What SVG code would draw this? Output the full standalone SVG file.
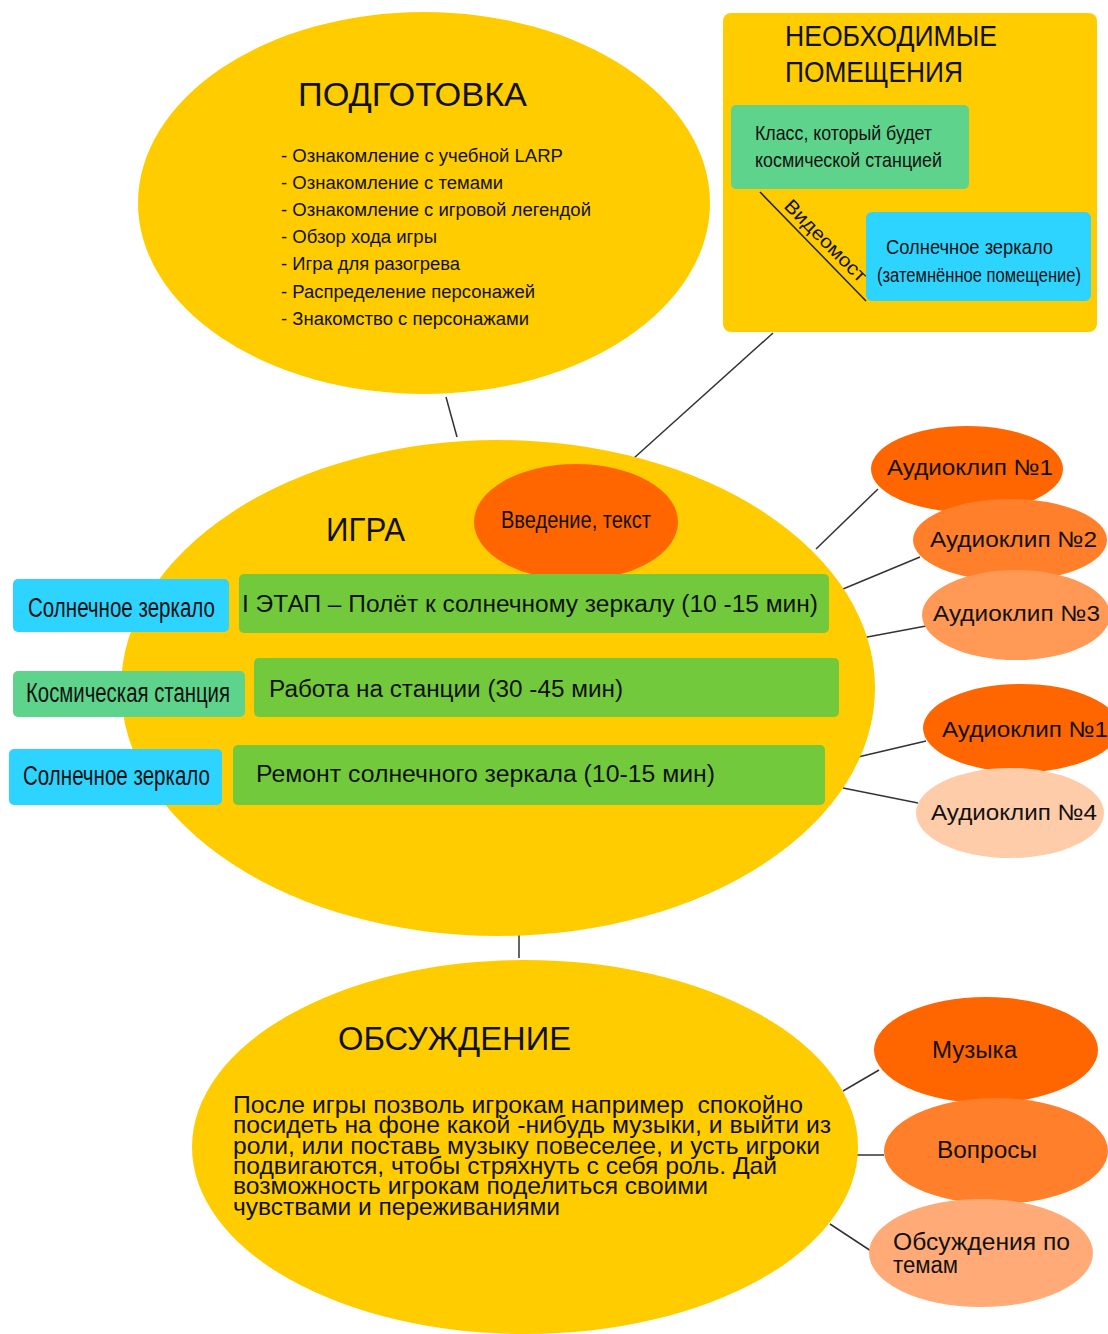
<svg xmlns="http://www.w3.org/2000/svg" width="1108" height="1334" viewBox="0 0 1108 1334">
<style>
.t{font-family:"Liberation Sans","Arial",sans-serif;fill:#111;}
.n{font-family:"Liberation Sans Narrow","Liberation Sans","Arial",sans-serif;fill:#111;}
.yel{fill:#FFCC00;}
.bar{fill:#72C93B;}
.lg{fill:#5ED38B;}
.bl{fill:#2DD4FF;}
.conn line{stroke:#333;stroke-width:1.5;}
</style>
<rect width="1108" height="1334" fill="#fff"/>
<g class="conn" id="connectors">
<line x1="446" y1="397" x2="457" y2="437"/>
<line x1="773" y1="333" x2="634" y2="458"/>
<line x1="816" y1="549" x2="878" y2="489"/>
<line x1="843" y1="589" x2="920" y2="557"/>
<line x1="862" y1="638" x2="926" y2="626"/>
<line x1="858" y1="757" x2="926" y2="741"/>
<line x1="843" y1="788" x2="918" y2="803"/>
<line x1="519" y1="935" x2="519" y2="958"/>
<line x1="843" y1="1091" x2="879" y2="1070"/>
<line x1="857" y1="1155" x2="884" y2="1155"/>
<line x1="830" y1="1224" x2="871" y2="1251"/>
</g>
<g id="podgotovka">
<ellipse class="yel" cx="424" cy="203" rx="286" ry="191"/>
<text class="t" x="298" y="106" font-size="34" textLength="229" lengthAdjust="spacingAndGlyphs">ПОДГОТОВКА</text>
<g class="n" font-size="18">
<text x="281" y="162" textLength="282" lengthAdjust="spacingAndGlyphs">- Ознакомление с учебной LARP</text>
<text x="281" y="189" textLength="222" lengthAdjust="spacingAndGlyphs">- Ознакомление с темами</text>
<text x="281" y="216" textLength="310" lengthAdjust="spacingAndGlyphs">- Ознакомление с игровой легендой</text>
<text x="281" y="243" textLength="156" lengthAdjust="spacingAndGlyphs">- Обзор хода игры</text>
<text x="281" y="270" textLength="179" lengthAdjust="spacingAndGlyphs">- Игра для разогрева</text>
<text x="281" y="298" textLength="254" lengthAdjust="spacingAndGlyphs">- Распределение персонажей</text>
<text x="281" y="325" textLength="248" lengthAdjust="spacingAndGlyphs">- Знакомство с персонажами</text>
</g>
</g>
<g id="pomeshcheniya">
<rect class="yel" x="723" y="13" width="374" height="319" rx="8"/>
<text class="n" x="785" y="46" font-size="29" textLength="212" lengthAdjust="spacingAndGlyphs">НЕОБХОДИМЫЕ</text>
<text class="n" x="785" y="82" font-size="29" textLength="178" lengthAdjust="spacingAndGlyphs">ПОМЕЩЕНИЯ</text>
</g>
<g id="klass">
<rect class="lg" x="731" y="105" width="238" height="84" rx="5"/>
<text class="n" x="755" y="140" font-size="21" textLength="177" lengthAdjust="spacingAndGlyphs">Класс, который будет</text>
<text class="n" x="755" y="167" font-size="21" textLength="187" lengthAdjust="spacingAndGlyphs">космической станцией</text>
</g>
<g id="zerkalo-room">
<rect class="bl" x="866" y="212" width="225" height="89" rx="6"/>
<text class="n" x="886" y="254" font-size="21" textLength="167" lengthAdjust="spacingAndGlyphs">Солнечное зеркало</text>
<text class="n" x="877" y="282" font-size="20" textLength="204" lengthAdjust="spacingAndGlyphs">(затемнённое помещение)</text>
</g>
<g id="videomost">
<line x1="760" y1="192" x2="866" y2="301" stroke="#222" stroke-width="1.5"/>
<text class="n" font-size="19" transform="translate(783,207) rotate(45)" textLength="108" lengthAdjust="spacingAndGlyphs">Видеомост</text>
</g>
<g id="igra">
<ellipse class="yel" cx="498" cy="688" rx="377" ry="248"/>
<text class="t" x="326" y="541" font-size="34" textLength="79" lengthAdjust="spacingAndGlyphs">ИГРА</text>
</g>
<g id="vvedenie">
<ellipse cx="576" cy="522" rx="102" ry="58" fill="#FF6600"/>
<text class="n" x="501" y="528" font-size="23" textLength="150" lengthAdjust="spacingAndGlyphs">Введение, текст</text>
</g>
<g id="etap1">
<rect class="bar" x="239" y="574" width="590" height="59" rx="5"/>
<text class="t" x="242" y="612" font-size="23" textLength="576" lengthAdjust="spacingAndGlyphs">I ЭТАП – Полёт к солнечному зеркалу (10 -15 мин)</text>
</g>
<g id="etap2">
<rect class="bar" x="254" y="658" width="585" height="59" rx="5"/>
<text class="t" x="269" y="697" font-size="23" textLength="354" lengthAdjust="spacingAndGlyphs">Работа на станции (30 -45 мин)</text>
</g>
<g id="etap3">
<rect class="bar" x="233" y="745" width="592" height="60" rx="5"/>
<text class="t" x="256" y="782" font-size="23" textLength="459" lengthAdjust="spacingAndGlyphs">Ремонт солнечного зеркала (10-15 мин)</text>
</g>
<g id="label-zerkalo1">
<rect class="bl" x="13" y="579" width="216" height="53" rx="5"/>
<text class="n" x="28" y="617" font-size="27" textLength="187" lengthAdjust="spacingAndGlyphs">Солнечное зеркало</text>
</g>
<g id="label-stanciya">
<rect class="lg" x="13" y="671" width="232" height="46" rx="5"/>
<text class="n" x="26" y="702" font-size="27" textLength="204" lengthAdjust="spacingAndGlyphs">Космическая станция</text>
</g>
<g id="label-zerkalo2">
<rect class="bl" x="9" y="749" width="213" height="56" rx="5"/>
<text class="n" x="23" y="785" font-size="27" textLength="187" lengthAdjust="spacingAndGlyphs">Солнечное зеркало</text>
</g>
<g id="audio1">
<ellipse cx="967" cy="469" rx="96" ry="43" fill="#FF6600"/>
<text class="t" x="887" y="475" font-size="22" textLength="166" lengthAdjust="spacingAndGlyphs">Аудиоклип №1</text>
</g>
<g id="audio2">
<ellipse cx="1010" cy="540" rx="97" ry="41" fill="#FF7F2A"/>
<text class="t" x="930" y="547" font-size="22" textLength="167" lengthAdjust="spacingAndGlyphs">Аудиоклип №2</text>
</g>
<g id="audio3">
<ellipse cx="1016" cy="615" rx="94" ry="45" fill="#FF9955"/>
<text class="t" x="933" y="621" font-size="22" textLength="167" lengthAdjust="spacingAndGlyphs">Аудиоклип №3</text>
</g>
<g id="audio1b">
<ellipse cx="1021" cy="728" rx="98" ry="44" fill="#FF6600"/>
<text class="t" x="942" y="737" font-size="22" textLength="166" lengthAdjust="spacingAndGlyphs">Аудиоклип №1</text>
</g>
<g id="audio4">
<ellipse cx="1010" cy="813" rx="94" ry="45" fill="#FFCCAA"/>
<text class="t" x="931" y="820" font-size="22" textLength="166" lengthAdjust="spacingAndGlyphs">Аудиоклип №4</text>
</g>
<g id="obsuzhdenie">
<ellipse class="yel" cx="525" cy="1147" rx="333" ry="187"/>
<text class="t" x="338" y="1050" font-size="34" textLength="233" lengthAdjust="spacingAndGlyphs">ОБСУЖДЕНИЕ</text>
<g class="n" font-size="24">
<text x="233" y="1113" textLength="570" lengthAdjust="spacingAndGlyphs" xml:space="preserve">После игры позволь игрокам например  спокойно</text>
<text x="233" y="1133" textLength="598" lengthAdjust="spacingAndGlyphs">посидеть на фоне какой -нибудь музыки, и выйти из</text>
<text x="233" y="1154" textLength="587" lengthAdjust="spacingAndGlyphs">роли, или поставь музыку повеселее, и усть игроки</text>
<text x="233" y="1174" textLength="544" lengthAdjust="spacingAndGlyphs">подвигаются, чтобы стряхнуть с себя роль. Дай</text>
<text x="233" y="1194" textLength="475" lengthAdjust="spacingAndGlyphs">возможность игрокам поделиться своими</text>
<text x="233" y="1215" textLength="327" lengthAdjust="spacingAndGlyphs">чувствами и переживаниями</text>
</g>
</g>
<g id="muzyka">
<ellipse cx="986" cy="1050" rx="112" ry="53" fill="#FF6600"/>
<text class="t" x="932" y="1058" font-size="23" textLength="85" lengthAdjust="spacingAndGlyphs">Музыка</text>
</g>
<g id="voprosy">
<ellipse cx="996" cy="1151" rx="112" ry="53" fill="#FF7F2A"/>
<text class="t" x="937" y="1158" font-size="23" textLength="100" lengthAdjust="spacingAndGlyphs">Вопросы</text>
</g>
<g id="obsuzhdeniya-temy">
<ellipse cx="981" cy="1253" rx="112" ry="54" fill="#FFAA77"/>
<text class="t" x="893" y="1250" font-size="23" textLength="177" lengthAdjust="spacingAndGlyphs">Обсуждения по</text>
<text class="t" x="893" y="1273" font-size="23" textLength="65" lengthAdjust="spacingAndGlyphs">темам</text>
</g>
</svg>
